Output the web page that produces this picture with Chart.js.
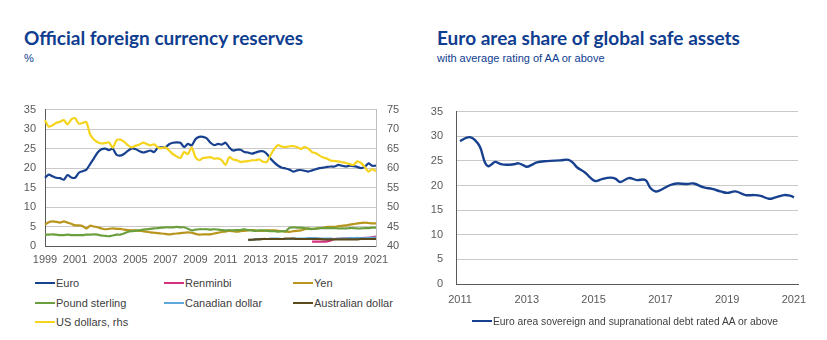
<!DOCTYPE html>
<html>
<head>
<meta charset="utf-8">
<script src="https://cdn.jsdelivr.net/npm/chart.js@4.4.1/dist/chart.umd.min.js"></script>
<style>
  body { margin: 0; background: #fff; font-family: 'Liberation Sans', Arial, sans-serif; }
  #page { position: relative; width: 827px; height: 340px; overflow: hidden; }
  .title { position: absolute; font-family: Lato, 'Liberation Sans', sans-serif; font-weight: bold; font-size: 19px; color: #0f3d8f; white-space: nowrap; }
  .sub { position: absolute; font-size: 11px; color: #0f3d8f; white-space: nowrap; }
  .box { position: absolute; }
  .legend { position: absolute; font-size: 11px; color: #404040; }
  .item { position: absolute; white-space: nowrap; line-height: 14px; }
  .item i { display: inline-block; width: 20px; height: 2px; vertical-align: middle; margin-right: 1px; position: relative; top: -1px; }
</style>
</head>
<body>
<div id="page">
  <div class="title" style="left:24px; top:26px;">Official foreign currency reserves</div>
  <div class="sub" style="left:24px; top:52px;">%</div>
  <div class="title" style="left:437px; top:26px;">Euro area share of global safe assets</div>
  <div class="sub" style="left:437px; top:52px;">with average rating of AA or above</div>

  <div class="box" style="left:0px; top:92px; width:412px; height:178px;"><canvas id="reserves"></canvas></div>
  <div class="legend" id="reservesLegend"></div>

  <div class="box" style="left:410px; top:92px; width:417px; height:215px;"><canvas id="safeAssets"></canvas></div>
  <div class="legend" id="safeLegend" style="font-size:10.3px"></div>
</div>
<script>
// quarterly, 1999Q1 - 2021Q1
var firstYear = 1999, lastYear = 2021;
var quarters = [];
for (var y = firstYear; y <= lastYear; y++) {
    for (var q = 1; q <= 4; q++) {
        if (y == lastYear && q > 1) break;
        quarters.push(y + 'Q' + q);
    }
}

var euro = [
    17.5, 18.3, 17.9, 17.5,  17.4, 17.0, 18.2, 17.6,  17.5, 18.8, 19.2, 19.6,
    21.0, 22.5, 24.0, 24.8,  25.0, 24.6, 25.0, 23.4,  23.2, 23.6, 24.4, 25.0,
    24.9, 24.4, 24.0, 24.2,  24.5, 24.1, 25.2, 25.3,  25.3, 26.1, 26.5, 26.6,
    26.5, 25.4, 26.2, 25.8,  27.4, 28.0, 28.0, 27.6,  26.5, 25.9, 26.2, 26.0,
    26.5, 25.3, 24.5, 24.7,  24.7, 24.1, 24.0, 23.7,  24.0, 24.3, 24.3, 23.6,
    22.4, 21.4, 20.6, 20.1,  19.9, 19.6, 19.1, 19.4,  19.5, 19.3, 19.1, 19.4,
    19.7, 20.0, 20.1, 20.3,  20.4, 20.4, 20.8, 20.6,  20.4, 20.6, 20.5, 20.3,
    20.0, 20.3, 21.2, 20.6,  20.6
];
var usDollar = [
    72.3, 70.6, 71.0, 71.6,  71.9, 72.3, 71.2, 72.5,  72.8, 71.4, 71.6, 71.8,
    68.6, 67.3, 66.6, 66.3,  66.4, 66.6, 65.2, 67.1,  67.3, 66.8, 65.9, 65.3,
    65.7, 66.0, 66.5, 66.2,  65.8, 66.1, 65.3, 65.1,  65.3, 64.5, 63.6, 63.0,
    62.6, 64.1, 63.6, 65.3,  62.8, 62.0, 62.6, 62.7,  62.8, 62.4, 62.5, 62.0,
    60.8, 62.8, 62.2, 62.0,  61.6, 61.7, 61.8, 62.0,  62.0, 62.2, 61.6, 61.6,
    63.4, 65.0, 65.9, 65.5,  65.4, 65.6, 65.6, 65.4,  64.9, 65.4, 65.0, 64.1,
    63.8, 63.2, 62.7, 62.4,  61.9, 61.8, 61.7, 61.5,  61.3, 61.0, 60.8, 61.7,
    61.3, 60.3, 59.1, 59.7,  59.2
];
var yen = [
    5.5, 6.1, 6.3, 6.2,  6.0, 6.3, 6.0, 5.7,  5.3, 5.3, 5.1, 4.5,
    5.2, 5.0, 4.8, 4.5,  4.3, 4.4, 4.5, 4.4,  4.4, 4.2, 4.1, 4.0,
    4.0, 3.9, 3.8, 3.7,  3.5, 3.4, 3.3, 3.2,  3.1, 3.0, 3.1, 3.2,
    3.3, 3.4, 3.5, 3.4,  3.1, 2.9, 3.0, 3.0,  3.0, 3.2, 3.4, 3.6,
    3.7, 3.9, 3.8, 3.7,  3.8, 3.9, 4.0, 4.1,  4.0, 3.9, 3.9, 4.0,
    4.0, 4.0, 3.9, 3.8,  3.7, 3.6, 3.8, 3.9,  4.0, 4.3, 4.5, 4.3,
    4.5, 4.6, 4.7, 4.9,  4.9, 4.9, 5.1, 5.2,  5.3, 5.5, 5.6, 5.8,
    5.9, 6.0, 5.9, 5.8,  5.8
];
var poundSterling = [
    2.9, 2.9, 3.0, 2.9,  2.8, 2.8, 2.9, 2.8,  2.8, 2.8, 2.8, 2.9,
    2.9, 3.0, 2.9, 2.7,  2.6, 2.5, 2.7, 2.9,  2.9, 3.2, 3.6, 3.8,
    3.9, 4.0, 4.2, 4.3,  4.4, 4.5, 4.6, 4.7,  4.8, 4.8, 4.8, 4.9,
    4.8, 4.8, 4.4, 4.0,  4.2, 4.3, 4.3, 4.3,  4.2, 4.3, 4.2, 4.1,
    4.0, 4.1, 4.0, 4.1,  4.1, 4.3, 4.1, 4.0,  3.9, 4.0, 4.0, 3.9,
    3.8, 3.8, 3.7, 3.8,  3.8, 4.7, 4.8, 4.7,  4.7, 4.6, 4.4, 4.4,
    4.4, 4.6, 4.6, 4.6,  4.6, 4.6, 4.5, 4.5,  4.5, 4.6, 4.6, 4.5,
    4.5, 4.6, 4.6, 4.7,  4.7
];
// shorter series, first quarter given separately
var renminbiStart = '2016Q4';
var renminbi = [
    1.1,  1.1, 1.1, 1.1, 1.2,  1.4, 1.8, 1.8, 1.9,  1.9, 2.0, 2.0, 2.0,
    2.0, 2.1, 2.1, 2.2,  2.4
];
var canadianStart = '2012Q3';
var canadianDollar = [
    1.5, 1.6,  1.7, 1.8, 1.8, 1.8,  1.9, 1.9, 1.9, 1.8,  1.8, 1.8, 1.9, 1.9,
    1.9, 1.9, 2.0, 2.0,  2.0, 1.9, 1.9, 1.9,  1.9, 1.8, 1.9, 1.9,  1.9, 2.0, 2.0, 2.1,
    2.0, 2.0, 2.1, 2.1,  2.1
];
var australianStart = '2012Q3';
var australianDollar = [
    1.6, 1.6,  1.7, 1.7, 1.8, 1.8,  1.8, 1.8, 1.8, 1.8,  1.9, 1.9, 1.9, 1.8,
    1.8, 1.8, 1.8, 1.8,  1.8, 1.8, 1.7, 1.7,  1.7, 1.7, 1.7, 1.7,  1.7, 1.7, 1.7, 1.7,
    1.8, 1.8, 1.8, 1.8,  1.8
];

// euro area share of global safe assets (fraction of year, %)
var safeYears = [
    2011.0, 2011.2, 2011.3, 2011.45, 2011.6, 2011.75, 2011.85, 2011.95, 2012.05, 2012.2,
    2012.4, 2012.6, 2012.75, 2012.9, 2013.0, 2013.15, 2013.3, 2013.6, 2014.0, 2014.25,
    2014.4, 2014.5, 2014.75, 2014.9, 2015.05, 2015.25, 2015.5, 2015.65, 2015.8, 2016.05,
    2016.3, 2016.55, 2016.7, 2016.85, 2016.95, 2017.3, 2017.5, 2017.8, 2018.0, 2018.3,
    2018.55, 2018.8, 2019.0, 2019.25, 2019.55, 2019.8, 2020.0, 2020.25, 2020.45, 2020.7,
    2020.9, 2021.0
];
var safeShare = [
    29.0, 29.7, 29.8, 29.2, 27.8, 24.6, 23.9, 24.3, 24.8, 24.4,
    24.2, 24.3, 24.5, 24.1, 23.8, 24.2, 24.7, 24.95, 25.1, 25.2,
    24.5, 23.7, 22.6, 21.6, 20.9, 21.3, 21.6, 21.4, 20.7, 21.5,
    21.1, 21.1, 19.5, 18.8, 18.9, 20.1, 20.4, 20.3, 20.4, 19.6,
    19.3, 18.8, 18.5, 18.8, 18.05, 18.05, 17.9, 17.3, 17.6, 18.05,
    17.9, 17.6
];
var safeTickYears = [2011, 2013, 2015, 2017, 2019, 2021];

function padFrom(start, values) {
    var out = [];
    var idx = quarters.indexOf(start);
    for (var i = 0; i < quarters.length; i++) {
        out.push(i < idx ? null : values[i - idx]);
    }
    return out;
}

var tickFont = { family: "'Liberation Sans', Arial, sans-serif", size: 11 };
var tickColor = '#595959';
var gridColor = '#c9c9c9';

function line(label, data, color, axis, order) {
    return {
        label: label, data: data, borderColor: color, backgroundColor: color,
        borderWidth: 2.2, pointRadius: 0, tension: 0.25, yAxisID: axis,
        order: order, spanGaps: false
    };
}

var reservesSeries = [
    line('Euro', euro, '#17418f', 'y', 7),
    line('Renminbi', padFrom(renminbiStart, renminbi), '#d6337f', 'y', 6),
    line('Yen', yen, '#b8951c', 'y', 5),
    line('Pound sterling', poundSterling, '#6b9e3d', 'y', 4),
    line('Canadian dollar', padFrom(canadianStart, canadianDollar), '#5fa8dc', 'y', 3),
    line('Australian dollar', padFrom(australianStart, australianDollar), '#5a4a1c', 'y', 2),
    line('US dollars, rhs', usDollar, '#f6d41c', 'y1', 1)
];

var reservesChart = new Chart(document.getElementById('reserves'), {
    type: 'line',
    data: { labels: quarters, datasets: reservesSeries },
    options: {
        responsive: true,
        maintainAspectRatio: false,
        animation: false,
        layout: { padding: { top: 12, left: 0, right: 0, bottom: 0 } },
        plugins: { legend: { display: false }, tooltip: { enabled: false } },
        scales: {
            x: {
                type: 'category',
                offset: false,
                grid: { display: false, drawTicks: false },
                border: { display: true, color: '#595959', width: 1 },
                ticks: {
                    autoSkip: false, maxRotation: 0, padding: 7,
                    font: tickFont, color: tickColor,
                    callback: function (v, i) {
                        var l = quarters[i];
                        var yr = parseInt(l.slice(0, 4));
                        return (l.slice(4) == 'Q1' && yr % 2 == 1) ? String(yr) : null;
                    }
                },
                afterFit: function (s) { s.height = 24; }
            },
            y: {
                position: 'left', min: 0, max: 35,
                grid: { color: gridColor, drawTicks: false },
                border: { display: true, color: '#595959', width: 1 },
                ticks: { stepSize: 5, padding: 9, font: tickFont, color: tickColor },
                afterFit: function (s) { s.width = 45; }
            },
            y1: {
                position: 'right', min: 40, max: 75,
                grid: { display: false, drawTicks: false },
                border: { display: true, color: '#bfbfbf', width: 1 },
                ticks: { stepSize: 5, padding: 11, font: tickFont, color: tickColor },
                afterFit: function (s) { s.width = 36; }
            }
        }
    }
});

var safeChart = new Chart(document.getElementById('safeAssets'), {
    type: 'line',
    data: {
        datasets: [{
            label: 'Euro area sovereign and supranational debt rated AA or above',
            data: safeYears.map(function (yr, i) { return { x: yr, y: safeShare[i] }; }),
            borderColor: '#17418f', backgroundColor: '#17418f',
            borderWidth: 2.4, pointRadius: 0, tension: 0.4
        }]
    },
    options: {
        responsive: true,
        maintainAspectRatio: false,
        animation: false,
        layout: { padding: { top: 11, left: 0, right: 29, bottom: 0 } },
        plugins: { legend: { display: false }, tooltip: { enabled: false } },
        scales: {
            x: {
                type: 'linear', min: 2010.88, max: 2021.12,
                grid: { display: false, drawTicks: false },
                border: { display: true, color: '#595959', width: 1 },
                ticks: {
                    padding: 9, font: tickFont, color: tickColor, maxRotation: 0,
                    callback: function (v) { return String(v); }
                },
                afterBuildTicks: function (s) {
                    s.ticks = safeTickYears.map(function (v) { return { value: v }; });
                },
                afterFit: function (s) { s.height = 23; }
            },
            y: {
                min: 0, max: 35,
                grid: { color: gridColor, drawTicks: false },
                border: { display: true, color: '#595959', width: 1 },
                ticks: { stepSize: 5, padding: 13, font: tickFont, color: tickColor },
                afterFit: function (s) { s.width = 46; }
            }
        }
    }
});

// legends in html, laid out in columns like the original
function buildLegend(el, chart, cols, left, top, colWidth, rowHeight) {
    el.style.left = left + 'px';
    el.style.top = top + 'px';
    chart.data.datasets.forEach(function (ds, i) {
        var d = document.createElement('div');
        d.className = 'item';
        d.style.left = (i % cols) * colWidth + 'px';
        d.style.top = Math.floor(i / cols) * rowHeight + 'px';
        d.innerHTML = '<i style="background:' + ds.borderColor + '"></i>' + ds.label;
        el.appendChild(d);
    });
}
buildLegend(document.getElementById('reservesLegend'), reservesChart, 3, 35, 276, 129, 19.5);
buildLegend(document.getElementById('safeLegend'), safeChart, 1, 472, 315, 0, 19);
</script>
</body>
</html>
